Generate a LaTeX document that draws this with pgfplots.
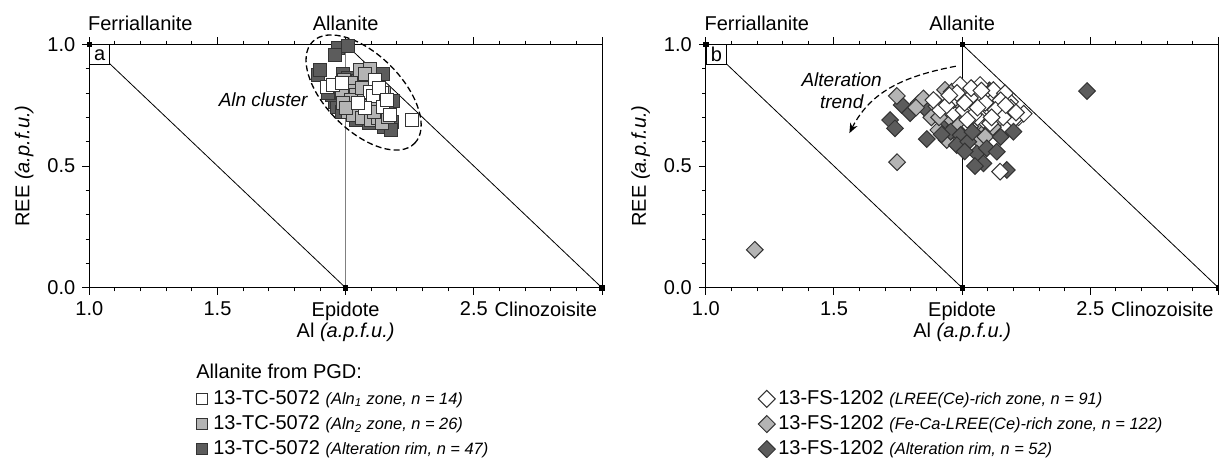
\documentclass[border=0pt]{standalone}
\usepackage{fontspec}
\setmainfont{Liberation Sans}
\usepackage{pgfplots}
\pgfplotsset{compat=1.18}
\usetikzlibrary{arrows.meta}
\definecolor{darkfill}{HTML}{5C5C5C}
\definecolor{lightfill}{HTML}{B4B4B4}
\definecolor{edgec}{HTML}{333333}
\newcommand{\sm}{\fontsize{8.2}{10}\selectfont\itshape}

% Panel a data (squares)
\pgfplotstableread{
x y
1.972 0.983
2.011 0.992
1.960 0.955
1.894 0.874
1.898 0.893
2.147 0.878
1.990 0.878
2.010 0.862
2.050 0.850
2.080 0.862
1.959 0.764
1.968 0.742
1.945 0.790
2.000 0.800
2.030 0.780
2.060 0.815
2.100 0.830
2.120 0.760
2.134 0.689
2.180 0.682
2.170 0.712
2.183 0.766
2.160 0.740
2.100 0.700
2.060 0.720
2.020 0.740
1.985 0.720
2.040 0.690
2.090 0.675
2.150 0.660
2.175 0.650
1.930 0.800
2.070 0.770
2.110 0.790
2.000 0.830
}\aDark
\pgfplotstableread{
x y
2.056 0.894
2.095 0.900
2.075 0.880
1.995 0.855
2.020 0.840
2.015 0.808
2.040 0.790
2.049 0.766
2.080 0.760
2.043 0.718
2.010 0.724
2.030 0.710
2.062 0.697
2.100 0.690
2.128 0.696
2.140 0.676
2.075 0.745
2.120 0.750
1.985 0.800
2.150 0.800
2.020 0.770
2.065 0.820
2.165 0.700
1.990 0.760
2.000 0.740
2.110 0.720
}\aLight
\pgfplotstableread{
x y
1.926 0.826
1.952 0.833
1.985 0.840
2.115 0.853
2.095 0.805
2.141 0.799
2.108 0.786
2.076 0.737
2.147 0.744
2.173 0.710
2.258 0.689
2.130 0.820
2.050 0.760
2.160 0.770
}\aWhite
% Panel b data (diamonds)
\pgfplotstableread{
x y
1.764 0.751
1.797 0.717
1.829 0.758
1.862 0.730
1.719 0.689
1.738 0.655
2.174 0.484
2.106 0.811
2.487 0.808
1.930 0.680
1.970 0.660
1.900 0.760
1.945 0.720
2.120 0.700
2.060 0.780
1.990 0.800
2.000 0.690
}\bDarkBack
\pgfplotstableread{
x y
1.862 0.611
1.955 0.641
1.994 0.627
1.979 0.586
2.024 0.600
2.057 0.552
2.096 0.573
2.135 0.559
2.083 0.511
2.200 0.641
2.010 0.560
2.040 0.640
2.050 0.500
2.150 0.620
1.920 0.630
}\bDarkFront
\pgfplotstableread{
x y
1.191 0.156
1.746 0.516
1.745 0.788
1.849 0.778
1.907 0.648
1.933 0.813
1.959 0.805
1.940 0.607
2.067 0.605
1.880 0.700
1.900 0.745
1.960 0.770
2.000 0.750
2.030 0.700
2.080 0.740
2.100 0.650
2.140 0.690
2.180 0.750
1.985 0.665
2.040 0.815
2.010 0.590
1.950 0.700
2.110 0.790
2.160 0.720
2.060 0.660
1.820 0.740
1.970 0.740
2.020 0.720
2.050 0.670
2.120 0.660
1.910 0.700
1.990 0.620
2.090 0.620
}\bLight
\pgfplotstableread{
x y
2.018 0.805
2.057 0.785
2.096 0.799
2.122 0.771
2.148 0.744
1.914 0.730
1.966 0.716
2.005 0.730
2.044 0.744
2.083 0.689
2.109 0.675
2.174 0.730
2.187 0.764
2.031 0.662
2.122 0.812
2.070 0.833
1.992 0.833
1.966 0.771
1.888 0.771
2.167 0.799
2.148 0.477
2.220 0.700
2.240 0.715
2.200 0.690
2.080 0.720
2.030 0.780
1.940 0.750
2.100 0.740
2.150 0.770
2.060 0.700
2.010 0.760
2.045 0.710
2.090 0.760
2.130 0.730
2.160 0.700
2.190 0.740
2.210 0.720
1.980 0.800
2.035 0.820
2.075 0.810
2.115 0.700
2.020 0.690
1.950 0.790
2.170 0.750
2.060 0.740
}\bWhite

\pgfplotsset{
  tern/.style={
    scale only axis,
    width=256.35pt, height=121.75pt,
    xmin=1, xmax=3, ymin=0, ymax=1,
    xtick={1,1.5,2,2.5},
    xticklabels={1.0,1.5,Epidote,2.5},
    extra x ticks={3},
    extra x tick labels={Clinozoisite},
    extra x tick style={tick label style={anchor=north east, xshift=1pt}},
    ytick={0,0.5,1},
    yticklabels={0.0,0.5,1.0},
    minor xtick={1.1,1.2,1.3,1.4,1.6,1.7,1.8,1.9,2.1,2.2,2.3,2.4,2.6,2.7,2.8,2.9},
    minor ytick={0.1,0.2,0.3,0.4,0.6,0.7,0.8,0.9},
    xtick pos=both, ytick pos=left,
    tick align=outside,
    major tick length=3.5pt, minor tick length=1.8pt,
    every tick/.style={black, line width=0.5pt},
    axis line style={line width=0.5pt, black},
    clip=false,
    xlabel={Al \textit{(a.p.f.u.)}},
    ylabel={REE \textit{(a.p.f.u.)}},
    every axis x label/.style={at={(axis description cs:0.5,-0.183)}, anchor=center},
    every axis y label/.style={at={(axis description cs:-0.127,0.5)}, anchor=center, rotate=90},
    reverse legend,
    legend cell align=left,
    legend style={draw=none, fill=none, inner sep=0pt, row sep=2.1pt,
      nodes={inner sep=1pt, anchor=west}},
  },
  sqmark/.style={only marks, mark=square*, mark size=3.25pt},
  dmmark/.style={only marks, mark=square*, mark size=2.95pt},
}

\begin{document}
\begin{tikzpicture}
% ---------------- Panel a ----------------
\begin{axis}[tern, at={(44.65pt,84.6pt)}, anchor=south west,
  legend style={at={(axis description cs:0.208,-0.4115)}, anchor=north west, column sep=2pt},
  legend image code/.code={\draw[#1, mark size=2.75pt] plot coordinates {(2.75pt,0pt)};}]
\addplot[gray, line width=0.5pt, forget plot] coordinates {(2,0) (2,1)};
\addplot[black, line width=0.4pt, forget plot] coordinates {(1.078,0.922) (2,0)};
\addplot[black, line width=0.4pt, forget plot] coordinates {(2,1) (3,0)};
\addplot[only marks, mark=square*, mark size=1.1pt, black, forget plot] coordinates {(1,1) (2,0) (3,0)};
\addplot[sqmark, mark options={line width=0.5pt, draw=edgec, fill=darkfill}] table {\aDark};
\addlegendentry{13-TC-5072 {\sm (Alteration rim, n = 47)}}
\addplot[sqmark, mark options={line width=0.5pt, draw=edgec, fill=lightfill}] table {\aLight};
\addlegendentry{13-TC-5072 {\sm (Aln\textsubscript{2} zone, n = 26)}}
\addplot[sqmark, mark options={line width=0.5pt, draw=edgec, fill=white}] table {\aWhite};
\addlegendentry{13-TC-5072 {\sm (Aln\textsubscript{1} zone, n = 14)}}
\draw[line width=0.65pt, dash pattern=on 3pt off 1.6pt] (axis cs:2.07,0.802) circle [x radius=36pt, y radius=19pt, rotate=-45];
\node[font=\fontsize{9.5}{11}\selectfont\itshape] at (axis cs:1.678,0.774) {Aln cluster};
\node[draw, line width=0.5pt, anchor=north west, minimum width=10pt, minimum height=10pt, inner sep=0pt, fill=white] at (rel axis cs:0,1) {a};
\node[anchor=base west, inner sep=0pt, xshift=-0.8pt, yshift=6.7pt] at (rel axis cs:0,1) {Ferriallanite};
\node[anchor=base, inner sep=0pt, yshift=6.7pt] at (axis cs:2,1) {Allanite};
\end{axis}
\node[anchor=west, inner sep=0pt] at (98pt,43pt) {Allanite from PGD:};
% ---------------- Panel b ----------------
\begin{axis}[tern, at={(352.9pt,84.6pt)}, anchor=south west,
  legend style={at={(axis description cs:0.1016,-0.4115)}, anchor=north west, column sep=0.5pt},
  legend image code/.code={\draw[#1, mark size=3pt] plot coordinates {(4.25pt,0pt)};}]
\addplot[black, line width=0.5pt, forget plot] coordinates {(2,0) (2,1)};
\addplot[black, line width=0.4pt, forget plot] coordinates {(1.078,0.922) (2,0)};
\addplot[black, line width=0.4pt, forget plot] coordinates {(2,1) (3,0)};
\addplot[only marks, mark=square*, mark size=1.1pt, black, forget plot] coordinates {(1,1) (2,1) (2,0) (3,0)};
\addplot[dmmark, mark options={rotate=45, line width=0.5pt, draw=edgec, fill=darkfill}] table {\bDarkBack};
\addlegendentry{13-FS-1202 {\sm (Alteration rim, n = 52)}}
\addplot[dmmark, mark options={rotate=45, line width=0.5pt, draw=edgec, fill=lightfill}] table {\bLight};
\addlegendentry{13-FS-1202 {\sm (Fe-Ca-LREE(Ce)-rich zone, n = 122)}}
\addplot[dmmark, mark options={rotate=45, line width=0.5pt, draw=edgec, fill=white}] table {\bWhite};
\addlegendentry{13-FS-1202 {\sm (LREE(Ce)-rich zone, n = 91)}}
\addplot[dmmark, forget plot, mark options={rotate=45, line width=0.5pt, draw=edgec, fill=darkfill}] table {\bDarkFront};
\draw[line width=0.6pt, dash pattern=on 3pt off 1.6pt, -{Stealth[length=5pt,width=4pt]}] (axis cs:1.975,0.91) to[out=191,in=63] (axis cs:1.56,0.635);
\node[font=\fontsize{9.5}{11}\selectfont\itshape] at (axis cs:1.53,0.855) {Alteration};
\node[font=\fontsize{9.5}{11}\selectfont\itshape] at (axis cs:1.53,0.766) {trend};
\node[draw, line width=0.5pt, anchor=north west, minimum width=10pt, minimum height=10pt, inner sep=0pt, fill=white] at (rel axis cs:0,1) {b};
\node[anchor=base west, inner sep=0pt, xshift=-0.8pt, yshift=6.7pt] at (rel axis cs:0,1) {Ferriallanite};
\node[anchor=base, inner sep=0pt, yshift=6.7pt] at (axis cs:2,1) {Allanite};
\end{axis}
\pgfresetboundingbox
\path[use as bounding box] (0,0) rectangle (609.5pt,228.5pt);
\end{tikzpicture}
\end{document}
